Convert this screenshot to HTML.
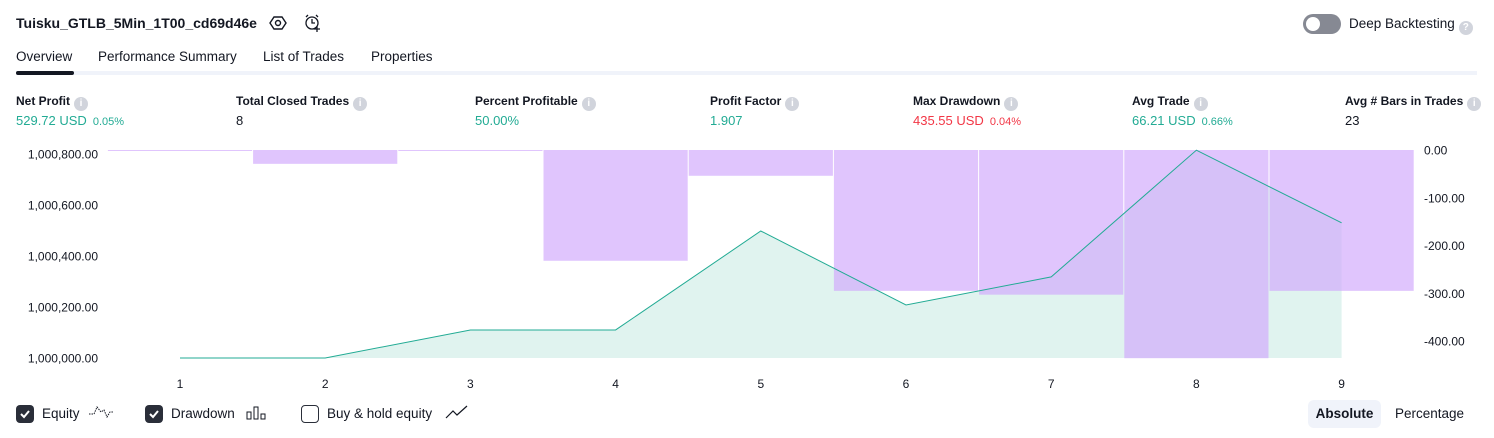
<!DOCTYPE html>
<html><head><meta charset="utf-8">
<style>
*{box-sizing:border-box;margin:0;padding:0}
body{width:1494px;height:438px;background:#fff;font-family:"Liberation Sans",sans-serif;color:#131722;position:relative;overflow:hidden}
.a{position:absolute;white-space:nowrap}
.title{left:16px;top:15px;font-size:14px;font-weight:bold}
.tab{top:49px;font-size:13.5px}
.lbl{top:94px;font-size:12px;font-weight:bold;color:#131722}
.val{top:113px;font-size:13px}
.g{color:#22ab94}.r{color:#f23645}
.pct{font-size:11px;margin-left:6px}
.info{display:inline-block;width:14px;height:14px;border-radius:50%;background:#d1d4dc;color:#fff;font-size:10px;text-align:center;line-height:14px;vertical-align:-1px;margin-left:4px;font-weight:bold}
.cb{width:18px;height:18px;border-radius:4px;top:405px}
.leg{top:406px;font-size:13.5px}
</style></head><body>
<div class="a title">Tuisku_GTLB_5Min_1T00_cd69d46e</div>
<svg class="a" style="left:269px;top:14px" width="18" height="18"><polygon points="5,3 13,3 17,9 13,15 5,15 1,9" fill="none" stroke="#131722" stroke-width="1.4"/><circle cx="9" cy="9" r="2.5" fill="none" stroke="#131722" stroke-width="1.4"/></svg>
<svg class="a" style="left:303px;top:13px" width="20" height="20"><circle cx="9" cy="10" r="6" fill="none" stroke="#131722" stroke-width="1.3"/><path d="M9 6v4h3M3 4l2-2M15 4l-2-2M14 13v6M11 16h6" stroke="#131722" stroke-width="1.3" fill="none"/></svg>
<div class="a" style="left:1303px;top:14px;width:38px;height:20px;border-radius:10px;background:#868993"><div style="position:absolute;left:3px;top:3px;width:14px;height:14px;border-radius:50%;background:#fff"></div></div>
<div class="a" style="left:1349px;top:16px;font-size:13.5px">Deep Backtesting<span class="info" style="font-size:10px;vertical-align:-2px">?</span></div>
<div class="a tab" style="left:16px">Overview</div>
<div class="a tab" style="left:98px">Performance Summary</div>
<div class="a tab" style="left:263px">List of Trades</div>
<div class="a tab" style="left:371px">Properties</div>
<div class="a" style="left:16px;top:71px;width:1461px;height:4px;background:#f0f3fa"></div>
<div class="a" style="left:16px;top:71px;width:58px;height:4px;border-radius:2px;background:#131722"></div>

<div class="a lbl" style="left:16px">Net Profit<span class="info">i</span></div>
<div class="a val g" style="left:16px">529.72 USD<span class="pct">0.05%</span></div>
<div class="a lbl" style="left:236px">Total Closed Trades<span class="info">i</span></div>
<div class="a val" style="left:236px">8</div>
<div class="a lbl" style="left:475px">Percent Profitable<span class="info">i</span></div>
<div class="a val g" style="left:475px">50.00%</div>
<div class="a lbl" style="left:710px">Profit Factor<span class="info">i</span></div>
<div class="a val g" style="left:710px">1.907</div>
<div class="a lbl" style="left:913px">Max Drawdown<span class="info">i</span></div>
<div class="a val r" style="left:913px">435.55 USD<span class="pct">0.04%</span></div>
<div class="a lbl" style="left:1132px">Avg Trade<span class="info">i</span></div>
<div class="a val g" style="left:1132px">66.21 USD<span class="pct">0.66%</span></div>
<div class="a lbl" style="left:1345px">Avg # Bars in Trades<span class="info">i</span></div>
<div class="a val" style="left:1345px">23</div>

<svg class="a" id="chart" style="left:0;top:0" width="1494" height="400"></svg>

<div class="a cb" style="left:16px;background:#2a2e39"><svg width="18" height="18"><path d="M5 9l3 3 5-6" stroke="#fff" stroke-width="2" fill="none"/></svg></div>
<div class="a leg" style="left:42px">Equity</div>
<svg class="a" style="left:88px;top:404px" width="26" height="18"><path d="M1 10h5l3-7 4 5 3-2 3 7 3-5h3" stroke="#131722" stroke-width="1" stroke-dasharray="1.5 1" fill="none"/></svg>
<div class="a cb" style="left:145px;background:#2a2e39"><svg width="18" height="18"><path d="M5 9l3 3 5-6" stroke="#fff" stroke-width="2" fill="none"/></svg></div>
<div class="a leg" style="left:171px">Drawdown</div>
<svg class="a" style="left:246px;top:405px" width="22" height="16"><rect x="1" y="7" width="4" height="7" fill="none" stroke="#131722"/><rect x="8" y="2" width="4" height="12" fill="none" stroke="#131722"/><rect x="15" y="9" width="4" height="5" fill="none" stroke="#131722"/></svg>
<div class="a cb" style="left:301px;border:1.5px solid #2a2e39"></div>
<div class="a leg" style="left:327px">Buy &amp; hold equity</div>
<svg class="a" style="left:445px;top:405px" width="24" height="16"><path d="M1 13l7-7 4 4 10-9" stroke="#131722" stroke-width="1.2" fill="none"/></svg>
<div class="a" style="left:1308px;top:400px;width:73px;height:28px;border-radius:6px;background:#f0f3fa;font-size:13.5px;font-weight:bold;text-align:center;line-height:28px">Absolute</div>
<div class="a" style="left:1395px;top:406px;font-size:13.5px">Percentage</div>

<script>
const categories=[1,2,3,4,5,6,7,8,9];
const equity=[1000000,1000000,1000110,1000110,1000498,1000208,1000318,1000815,1000530];
const drawdown=[-2,-29,-2,-232,-54,-295,-303,-436,-295];
const leftTicks=[1000000,1000200,1000400,1000600,1000800];
const leftTickLabels=["1,000,000.00","1,000,200.00","1,000,400.00","1,000,600.00","1,000,800.00"];
const rightTicks=[0,-100,-200,-300,-400];
const rightTickLabels=["0.00","-100.00","-200.00","-300.00","-400.00"];
const svg=document.getElementById('chart');
const NS='http://www.w3.org/2000/svg';
const xS=i=>180+145.2*i;
const yL=v=>358-(v-1000000)*0.255;
const yR=v=>150-v*0.4775;
function mk(t,a){const e=document.createElementNS(NS,t);for(const k in a)e.setAttribute(k,a[k]);svg.appendChild(e);return e;}
let pts=equity.map((v,i)=>xS(i)+','+yL(v)).join(' ');
let area=mk('polygon',{points:xS(0)+','+yL(1000000)+' '+pts+' '+xS(equity.length-1)+','+yL(1000000),fill:'#e0f3ef'});


drawdown.forEach((v,i)=>{
 const x0=xS(i)-72.6+0.5, w=144.2;
 const r=mk('rect',{x:x0,y:yR(0),width:w,height:Math.max(1,yR(v)-yR(0)),fill:'rgba(209,170,252,0.68)'});
 
 
});
let line=mk('polyline',{points:pts,fill:'none',stroke:'#22ab94','stroke-width':1});


leftTicks.forEach((v,i)=>{
 const t=mk('text',{x:98,y:yL(v)+4.5,'text-anchor':'end','font-size':12,fill:'#131722','font-family':'Liberation Sans'});
 t.textContent=leftTickLabels[i];
 
 
});
rightTicks.forEach((v,i)=>{
 const t=mk('text',{x:1424,y:yR(v)+4.5,'font-size':12,fill:'#131722','font-family':'Liberation Sans'});
 t.textContent=rightTickLabels[i];
 
 
});
categories.forEach((c,i)=>{
 const t=mk('text',{x:xS(i),y:388,'text-anchor':'middle','font-size':12,fill:'#131722','font-family':'Liberation Sans'});
 t.textContent=c;
 
 
});
</script>
</body></html>
